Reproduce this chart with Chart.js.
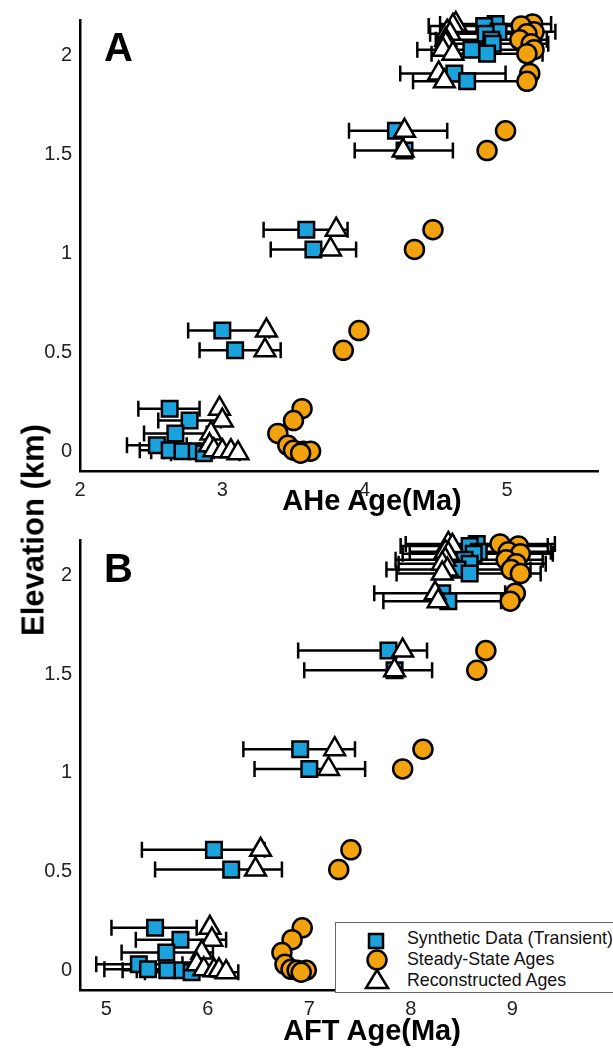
<!DOCTYPE html>
<html>
<head>
<meta charset="utf-8">
<script src="https://cdn.jsdelivr.net/npm/chart.js"></script>
<style>
body { margin: 0; background: #fff; width: 613px; height: 1057px; position: relative; overflow: hidden; font-family: "Liberation Sans", Arial, sans-serif; }
canvas { position: absolute; left: 0; }
#chartA { top: 0; }
#chartB { top: 520px; }
.lbl { position: absolute; font-weight: bold; color: #000; white-space: nowrap; line-height: 1; }
.xt { transform: translateX(-50%); font-size: 29px; }
#legend { position: absolute; left: 335px; top: 922px; width: 290px; height: 69px; border: 1px solid #666; background: #fff; }
#legend svg { position: absolute; left: 0; top: 0; }
#legend .row { position: absolute; left: 71px; font-size: 17.8px; line-height: 20px; color: #111; white-space: nowrap; }
</style>
</head>
<body>
<canvas id="chartA" width="613" height="520"></canvas>
<canvas id="chartB" width="613" height="537"></canvas>

<div class="lbl" style="left:104px; top:27px; font-size:40px;">A</div>
<div class="lbl" style="left:104px; top:548px; font-size:40px;">B</div>
<div class="lbl xt" style="left:372px; top:486px;">AHe Age(Ma)</div>
<div class="lbl xt" style="left:372px; top:1016px;">AFT Age(Ma)</div>
<div class="lbl" style="left:33px; top:530px; font-size:31px; transform: translate(-50%,-50%) rotate(-90deg);">Elevation (km)</div>

<div id="legend">
  <svg width="80" height="69">
    <rect x="33" y="11" width="14" height="14" fill="#1ba1dc" stroke="#000" stroke-width="2.5"/>
    <circle cx="41" cy="37" r="9.5" fill="#f2a20c" stroke="#000" stroke-width="2.5"/>
    <polygon points="41,47 52,65 30,65" fill="#fff" stroke="#000" stroke-width="2.5"/>
  </svg>
  <div class="row" style="top:5px;">Synthetic Data (Transient)</div>
  <div class="row" style="top:26px;">Steady-State Ages</div>
  <div class="row" style="top:47px;">Reconstructed Ages</div>
</div>

<script>
// sample elevations (km), shared by both panels
const elev = [2.16, 2.15, 2.12, 2.11, 2.08, 2.06, 2.03, 2.01, 1.91, 1.87,
              1.62, 1.52, 1.12, 1.02, 0.61, 0.51,
              0.215, 0.155, 0.09, 0.03, 0.005, 0.0, 0.0, -0.01];
const elevTicks = [0, 0.5, 1, 1.5, 2];

// panel A - AHe ages (Ma)
const aheSynthetic = [4.92, 4.84, 4.94, 4.85, 4.89, 4.90, 4.75, 4.86, 4.63, 4.72,
                      4.22, 4.28, 3.59, 3.64, 3.00, 3.09,
                      2.63, 2.77, 2.67, 2.54, 2.63, 2.72, 2.82, 2.87];
const aheSteady    = [5.18, 5.10, 5.19, 5.14, 5.09, 5.17, 5.19, 5.14, 5.16, 5.14,
                      4.99, 4.86, 4.48, 4.35, 3.96, 3.85,
                      3.56, 3.50, 3.39, 3.46, 3.50, 3.57, 3.62, 3.55];
const aheRecon     = [4.64, 4.62, 4.58, 4.60, 4.57, 4.57, 4.55, 4.62, 4.52, 4.56,
                      4.28, 4.27, 3.80, 3.76, 3.31, 3.30,
                      2.98, 3.00, 2.92, 2.91, 2.94, 3.00, 3.06, 3.11];
const aheErrLo     = [4.53, 4.45, 4.54, 4.46, 4.50, 4.51, 4.37, 4.47, 4.25, 4.34,
                      3.89, 3.93, 3.29, 3.34, 2.76, 2.84,
                      2.41, 2.55, 2.45, 2.33, 2.42, 2.50, 2.59, 2.64];
const aheErrHi     = [5.31, 5.23, 5.34, 5.24, 5.28, 5.29, 5.13, 5.25, 4.99, 5.10,
                      4.58, 4.62, 3.88, 3.94, 3.33, 3.41,
                      2.84, 2.99, 2.89, 2.75, 2.84, 2.94, 3.05, 3.12];
const aheTicks = [2, 3, 4, 5];

// panel B - AFT ages (Ma)
const aftSynthetic = [8.65, 8.58, 8.67, 8.62, 8.53, 8.58, 8.46, 8.58, 8.31, 8.37,
                      7.78, 7.84, 6.91, 7.00, 6.06, 6.23,
                      5.48, 5.73, 5.59, 5.32, 5.41, 5.60, 5.75, 5.84];
const aftSteady    = [8.88, 9.06, 8.96, 9.08, 8.94, 9.04, 8.99, 9.08, 9.03, 8.98,
                      8.74, 8.65, 8.12, 7.92, 7.41, 7.29,
                      6.93, 6.83, 6.73, 6.76, 6.82, 6.88, 6.97, 6.92];
const aftRecon     = [8.37, 8.41, 8.34, 8.37, 8.34, 8.31, 8.36, 8.31, 8.24, 8.27,
                      7.92, 7.84, 7.25, 7.19, 6.52, 6.47,
                      6.02, 6.04, 5.94, 5.89, 5.96, 6.06, 6.11, 6.18];
const aftErrLo     = [7.95, 7.90, 7.99, 7.92, 7.85, 7.88, 7.76, 7.86, 7.64, 7.73,
                      6.89, 6.95, 6.35, 6.46, 5.35, 5.48,
                      5.05, 5.29, 5.15, 4.90, 4.98, 5.16, 5.30, 5.38];
const aftErrHi     = [9.42, 9.35, 9.38, 9.40, 9.30, 9.33, 9.18, 9.28, 8.93, 8.89,
                      8.16, 8.21, 7.45, 7.55, 6.56, 6.73,
                      5.89, 6.18, 6.05, 5.75, 5.84, 6.05, 6.20, 6.30];
const aftTicks = [5, 6, 7, 8, 9];

const BLUE = '#1ba1dc';
const ORANGE = '#f2a20c';

// horizontal error bars with caps, drawn under the markers
const errorBars = {
    id: 'errorBars',
    beforeDatasetsDraw(chart, args, opts) {
        const ctx = chart.ctx;
        const x = chart.scales.x, y = chart.scales.y;
        ctx.save();
        ctx.strokeStyle = '#000';
        ctx.lineWidth = 2.5;
        opts.lo.forEach((lo, i) => {
            let py = y.getPixelForValue(elev[i]);
            let x1 = x.getPixelForValue(lo);
            let x2 = x.getPixelForValue(opts.hi[i]);
            ctx.beginPath();
            ctx.moveTo(x1, py); ctx.lineTo(x2, py);
            ctx.moveTo(x1, py - 8); ctx.lineTo(x1, py + 8);
            ctx.moveTo(x2, py - 8); ctx.lineTo(x2, py + 8);
            ctx.stroke();
        });
        ctx.restore();
    }
};

function pts(xs) {
    return xs.map((v, i) => ({ x: v, y: elev[i] }));
}

function makePanel(id, synth, steady, recon, lo, hi, xMin, xMax, xTicks, padTop, xH) {
    new Chart(document.getElementById(id), {
        type: 'scatter',
        data: {
            datasets: [
                { label: 'Synthetic Data (Transient)', data: pts(synth), pointStyle: 'rect', pointRadius: 11,
                  backgroundColor: BLUE, borderColor: '#000', borderWidth: 2.5, order: 3, clip: false },
                { label: 'Steady-State Ages', data: pts(steady), pointStyle: 'circle', pointRadius: 9.5,
                  backgroundColor: ORANGE, borderColor: '#000', borderWidth: 2.5, order: 1, clip: false },
                { label: 'Reconstructed Ages', data: pts(recon), pointStyle: 'triangle', pointRadius: 12,
                  backgroundColor: '#fff', borderColor: '#000', borderWidth: 2.5, order: 2, clip: false }
            ]
        },
        options: {
            responsive: false,
            animation: false,
            layout: { padding: { top: padTop, left: 0, right: 0, bottom: 0 } },
            plugins: {
                legend: { display: false },
                tooltip: { enabled: false },
                errorBars: { lo: lo, hi: hi }
            },
            scales: {
                x: {
                    type: 'linear', min: xMin, max: xMax,
                    grid: { display: false, drawTicks: false },
                    border: { display: true, color: '#000', width: 2.5 },
                    ticks: { color: '#222', padding: 7, font: { family: 'Liberation Sans', size: 20 },
                             callback: v => String(v) },
                    afterBuildTicks: s => { s.ticks = xTicks.map(v => ({ value: v })); },
                    afterFit: s => { s.height = xH; }
                },
                y: {
                    type: 'linear', min: -0.1, max: 2.18,
                    grid: { display: false, drawTicks: false },
                    border: { display: true, color: '#000', width: 2.5 },
                    ticks: { color: '#222', padding: 8, font: { family: 'Liberation Sans', size: 20 },
                             callback: v => String(v) },
                    afterBuildTicks: s => { s.ticks = elevTicks.map(v => ({ value: v })); },
                    afterFit: s => { s.width = 80; }
                }
            }
        },
        plugins: [errorBars]
    });
}

makePanel('chartA', aheSynthetic, aheSteady, aheRecon, aheErrLo, aheErrHi, 2, 5.643, aheTicks, 15, 49);
makePanel('chartB', aftSynthetic, aftSteady, aftRecon, aftErrLo, aftErrHi, 4.74, 9.85, aftTicks, 20, 67);
</script>
</body>
</html>
